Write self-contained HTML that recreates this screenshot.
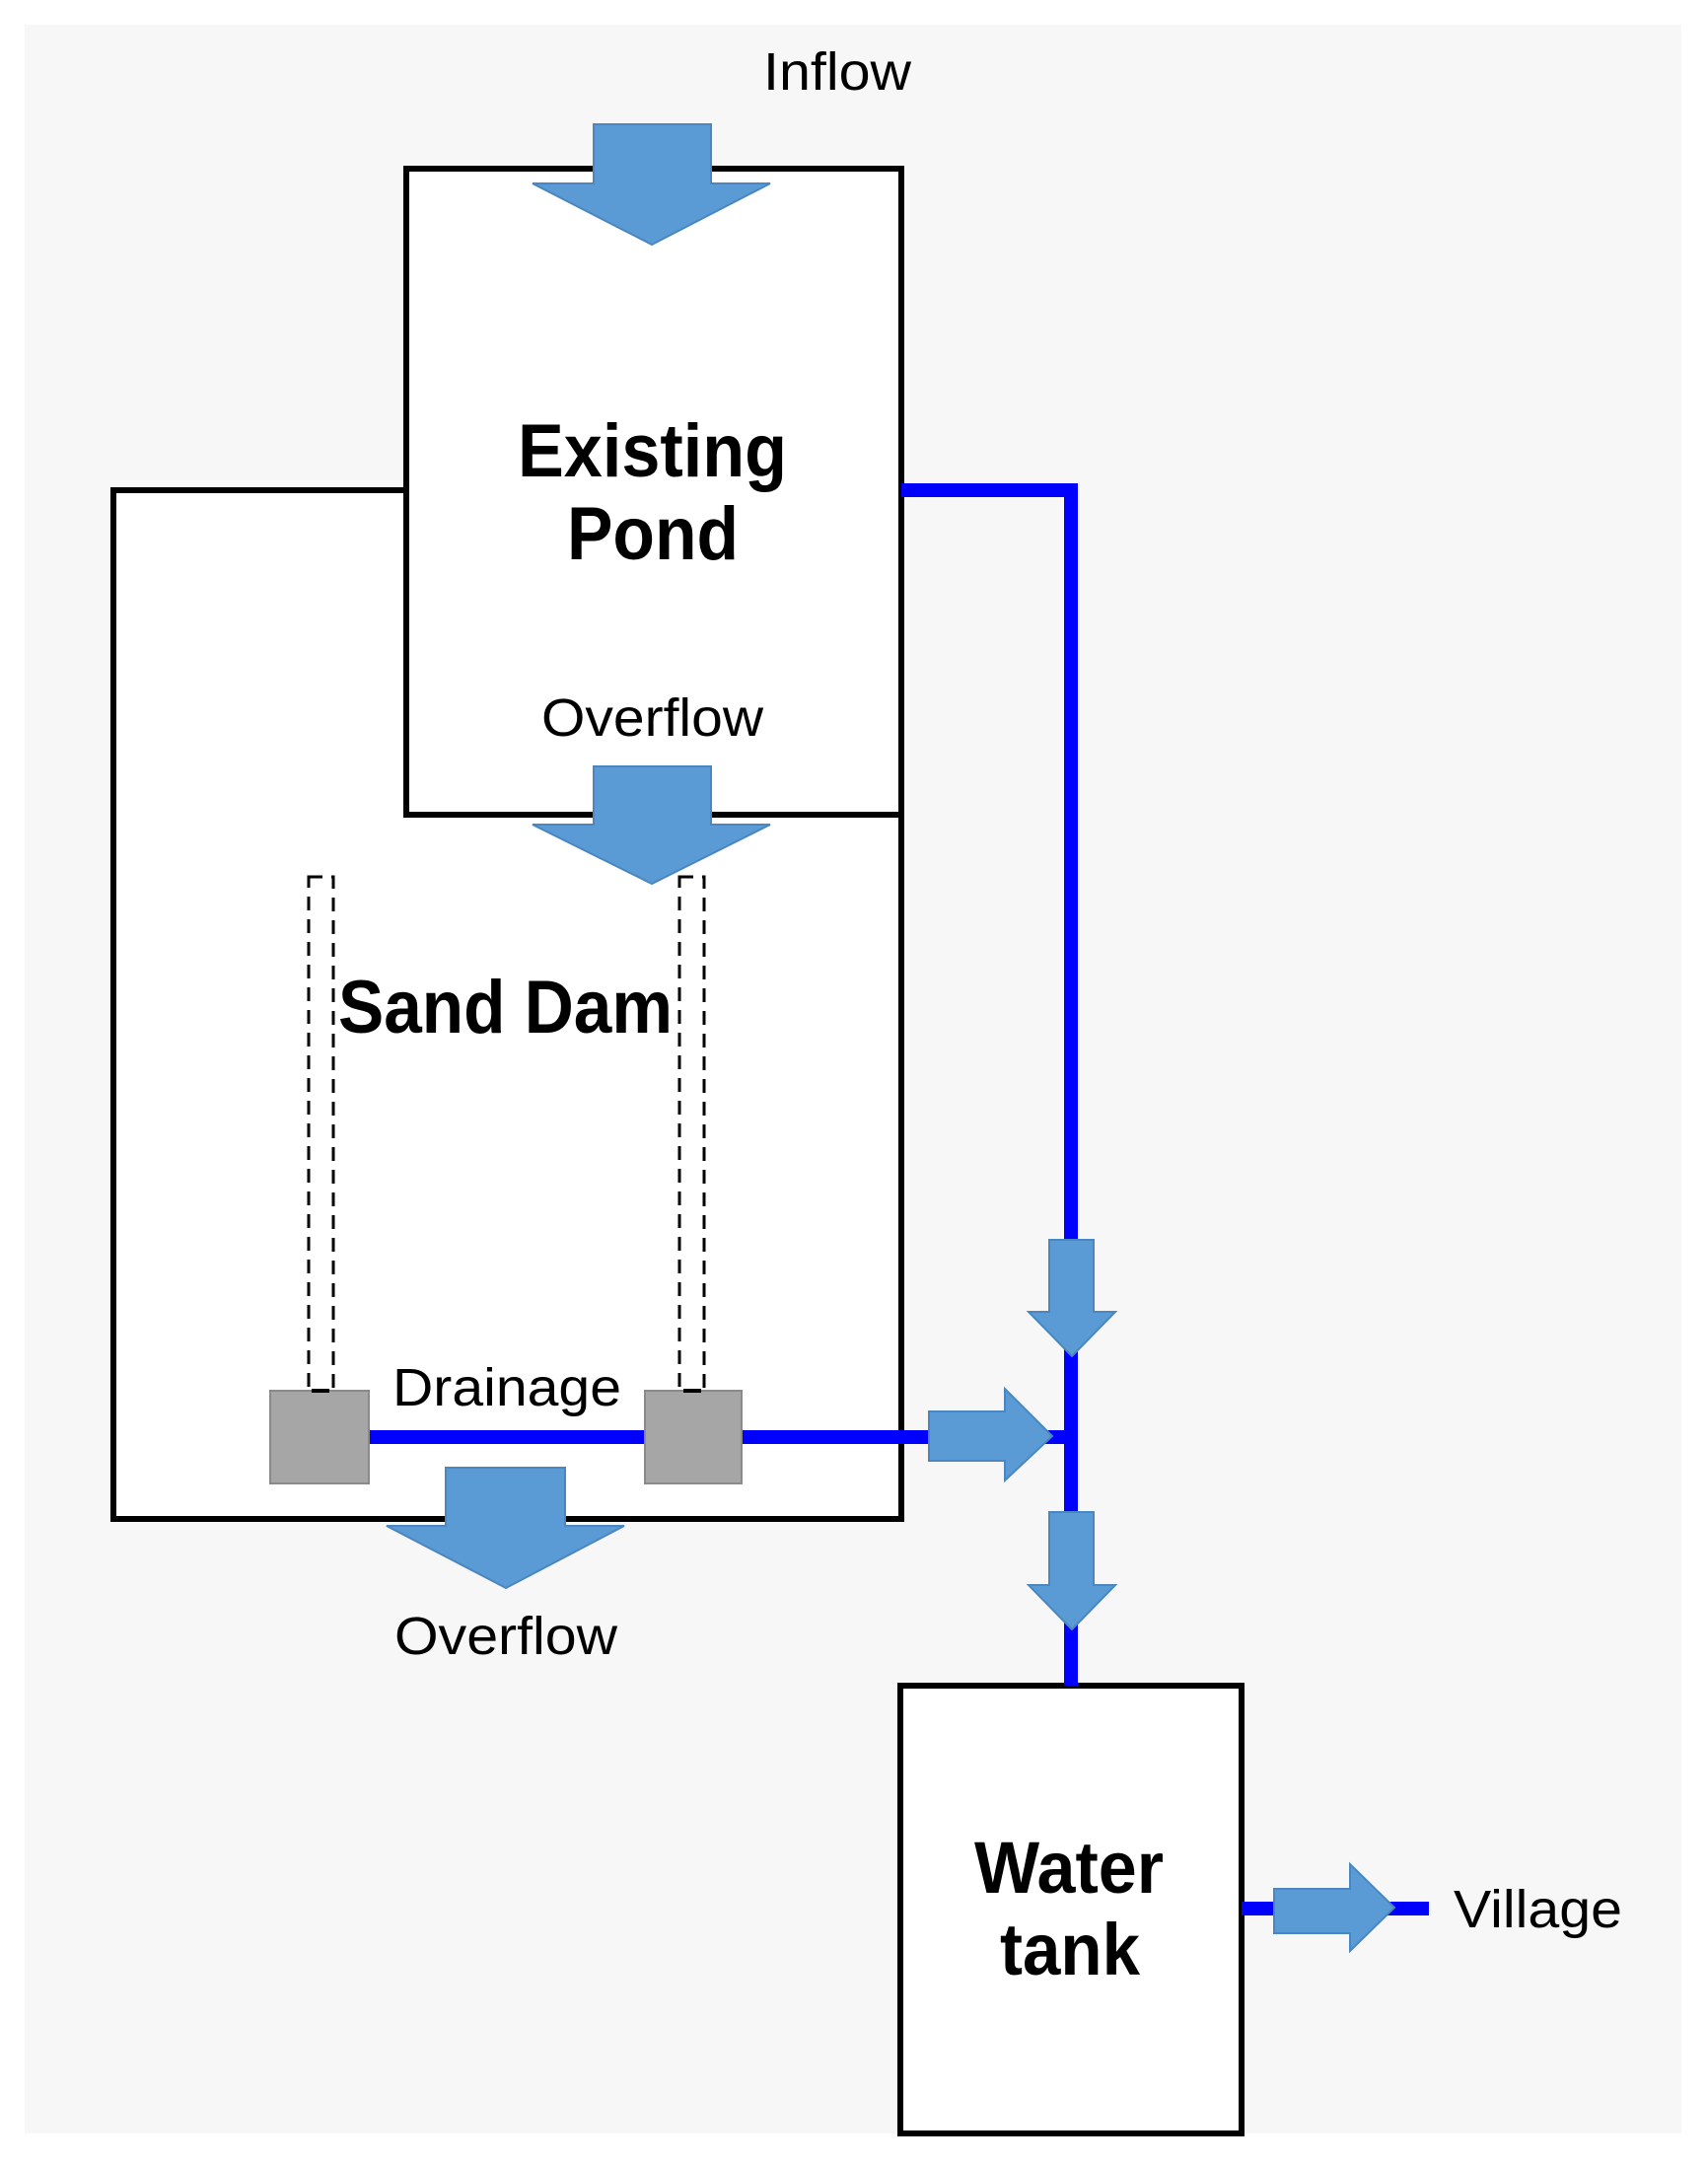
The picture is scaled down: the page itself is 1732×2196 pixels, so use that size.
<!DOCTYPE html>
<html><head><meta charset="utf-8"><style>html,body{margin:0;padding:0;background:#fff}svg{display:block}</style></head>
<body>
<svg width="1732" height="2196" viewBox="0 0 1732 2196" xmlns="http://www.w3.org/2000/svg" font-family="Liberation Sans, Arial, sans-serif">
<rect x="0" y="0" width="1732" height="2196" fill="#fff"/>
<rect x="25" y="25" width="1680" height="2138" fill="#f7f7f7"/>
<rect x="115" y="497" width="799" height="1043" fill="#fff" stroke="#000" stroke-width="6"/>
<rect x="412" y="171" width="502" height="655" fill="#fff" stroke="#000" stroke-width="6"/>
<rect x="913" y="1709" width="346" height="454" fill="#fff" stroke="#000" stroke-width="6"/>
<g stroke="#0000ff" stroke-width="14" fill="none">
<polyline points="914,497 1086,497 1086,1709"/>
<line x1="374" y1="1457" x2="1086" y2="1457"/>
<line x1="1259" y1="1935" x2="1449" y2="1935"/>
</g>
<g fill="none" stroke="#000" stroke-width="3" stroke-dasharray="14,9">
<rect x="313" y="889" width="25" height="521"/>
<rect x="689" y="889" width="25" height="521"/>
</g>
<rect x="274" y="1410" width="100" height="94" fill="#a6a6a6" stroke="#8a8a8a" stroke-width="2"/>
<rect x="654" y="1410" width="98" height="94" fill="#a6a6a6" stroke="#8a8a8a" stroke-width="2"/>
<line x1="316" y1="1410" x2="334" y2="1410" stroke="#000" stroke-width="4"/>
<line x1="693" y1="1410" x2="711" y2="1410" stroke="#000" stroke-width="4"/>
<g fill="#5b9bd5" stroke="#4a86c0" stroke-width="2">
<polygon points="602,126 721,126 721,186 781,186 661,248 540,186 602,186"/>
<polygon points="602,777 721,777 721,836 781,836 661,896 540,836 602,836"/>
<polygon points="452,1488 573,1488 573,1547 633,1547 513,1610 392,1547 452,1547"/>
<polygon points="1064,1257 1109,1257 1109,1330 1131,1330 1087,1375 1043,1330 1064,1330"/>
<polygon points="1064,1533 1109,1533 1109,1607 1131,1607 1087,1652 1043,1607 1064,1607"/>
<polygon points="942,1431 1019,1431 1019,1408 1067,1456 1019,1501 1019,1481 942,1481"/>
<polygon points="1292,1915 1369,1915 1369,1890 1414,1934 1369,1978 1369,1960 1292,1960"/>
</g>
<g fill="#000">
<text x="774" y="91" font-size="54" textLength="150" lengthAdjust="spacingAndGlyphs">Inflow</text>
<text x="525" y="483" font-size="76" font-weight="bold" textLength="273" lengthAdjust="spacingAndGlyphs">Existing</text>
<text x="575" y="567" font-size="76" font-weight="bold" textLength="174" lengthAdjust="spacingAndGlyphs">Pond</text>
<text x="549" y="746" font-size="54" textLength="225" lengthAdjust="spacingAndGlyphs">Overflow</text>
<text x="343" y="1047" font-size="76" font-weight="bold" textLength="339" lengthAdjust="spacingAndGlyphs">Sand Dam</text>
<text x="398" y="1425" font-size="54" textLength="232" lengthAdjust="spacingAndGlyphs">Drainage</text>
<text x="400" y="1677" font-size="54" textLength="226" lengthAdjust="spacingAndGlyphs">Overflow</text>
<text x="988" y="1919" font-size="74" font-weight="bold" textLength="192" lengthAdjust="spacingAndGlyphs">Water</text>
<text x="1014" y="2002" font-size="74" font-weight="bold" textLength="142" lengthAdjust="spacingAndGlyphs">tank</text>
<text x="1474" y="1954" font-size="54" textLength="171" lengthAdjust="spacingAndGlyphs">Village</text>
</g>
</svg>
</body></html>
